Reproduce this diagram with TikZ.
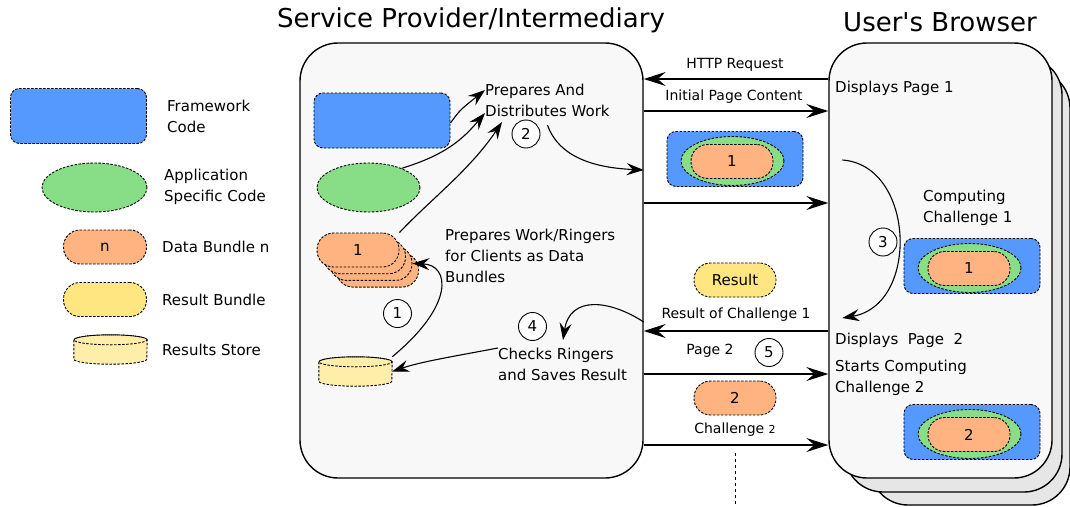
\documentclass[tikz,border=0pt]{standalone}
\usepackage{fontspec}
\setmainfont{DejaVu Sans}
\newfontfamily\titlefont{DejaVu Sans}[Ligatures=TeXOff]
\usetikzlibrary{shapes.geometric,arrows.meta}
\definecolor{fwblue}{HTML}{5599FF}
\definecolor{appgreen}{HTML}{87DE87}
\definecolor{dataorange}{HTML}{FFB380}
\definecolor{resyellow}{HTML}{FFE680}
\definecolor{storeyellow}{HTML}{FFEEAA}
\definecolor{panelgray}{HTML}{F8F8F8}
\definecolor{backgray}{HTML}{E6E6E6}
\tikzset{
  panel/.style={draw, line width=1.4pt, fill=panelgray, rounded corners=38pt},
  dashedge/.style={draw, dash pattern=on 2.5pt off 1.5pt, line width=0.9pt},
  fwbox/.style={dashedge, fill=fwblue, rounded corners=9pt, minimum width=136pt, minimum height=55pt},
  appoval/.style={dashedge, ellipse, fill=appgreen, minimum width=103pt, minimum height=49pt, inner sep=0pt},
  datapill/.style={dashedge, fill=dataorange, rounded corners=16.5pt, minimum width=82pt, minimum height=34pt, font=\fontsize{15}{18}\selectfont},
  respill/.style={datapill, fill=resyellow},
  storecyl/.style={minimum width=73pt, minimum height=29pt, inner sep=0pt},
  stepnum/.style={draw, circle, line width=0.9pt, fill=white, minimum size=28pt, inner sep=0pt, font=\fontsize{15}{18}\selectfont},
  txt/.style={align=left, anchor=west, inner sep=0pt, font=\fontsize{15}{21}\selectfont},
  lbl/.style={inner sep=0pt, font=\fontsize{14}{17}\selectfont},
  flow/.style={line width=1.6pt, -{Stealth[length=22pt,width=14pt,inset=8pt]}},
  bent/.style={line width=1.1pt, -{Stealth[length=17pt,width=12pt,inset=6pt]}},
}
\begin{document}
\begin{tikzpicture}[x=1pt, y=-1pt]
\useasboundingbox (0,0) rectangle (1070,506);
%%% Titles
\node[font=\fontsize{26}{30}\selectfont] (servertitle) at (471,20) {Service Provider/Intermediary};
\node[font=\titlefont\fontsize{26}{30}\selectfont] (browsertitle) at (940,22) {User's Browser};
%%% The legend on the left
\node[fwbox] (fwlegend) at (78.5,116) {};
\node[txt] (fwtext) at (167,116.5) {Framework\\Code};
\node[appoval, minimum width=105pt] (applegend) at (94.5,187.5) {};
\node[txt] (apptext) at (164,186.5) {Application\\Specific Code};
\node[datapill, minimum width=83pt] (datalegend) at (105,247) {n};
\node[txt] (datatext) at (162,247) {Data Bundle n};
\node[respill, minimum width=83pt] (reslegend) at (105,299.5) {};
\node[txt] (restext) at (162,300) {Result Bundle};
\node[storecyl] (storelegend) at (110.5,349.5) {};
\node[txt] (storetext) at (162,350) {Results Store};
%%% The browser windows, the two at the back first
\node[panel, fill=backgray, minimum width=200pt, minimum height=435pt] (browserback2) at (970,287.5) {};
\node[panel, fill=backgray, minimum width=217pt, minimum height=435pt] (browserback1) at (953.5,274.5) {};
\node[panel, minimum width=223pt, minimum height=435pt] (browser) at (940.5,260.5) {};
%%% The service provider
\node[panel, minimum width=343pt, minimum height=435pt] (server) at (471.5,260.5) {};
\node[fwbox] (fwcode) at (382,120.5) {};
\node[appoval] (appcode) at (368.5,187.5) {};
\foreach \k in {3,2,1}
  \node[datapill] (stack\k) at ({358+6.5*\k},{250+6.7*\k}) {};
\node[datapill] (stack0) at (358,250) {1};
\node[storecyl] (store) at (355.5,371.5) {};
%%% Both result stores drawn as cylinders
\foreach \c in {storelegend,store} {
  \path[dashedge, fill=storeyellow] ([yshift=-5pt]\c.north west) -- ([yshift=5pt]\c.south west)
    arc[start angle=180, end angle=360, x radius=36.5pt, y radius=5pt]
    -- ([yshift=-5pt]\c.north east)
    arc[start angle=0, end angle=180, x radius=36.5pt, y radius=5pt] -- cycle;
  \path[dashedge] ([yshift=-5pt]\c.north) ellipse [x radius=36.5pt, y radius=5pt];
}
%%% Texts of the steps
\node[txt] (prepwork) at (485,100.5) {Prepares And\\Distributes Work};
\node[txt] (prepringers) at (445,256) {Prepares Work/Ringers\\for Clients as Data\\Bundles};
\node[txt] (checks) at (498,364.5) {Checks Ringers\\and Saves Result};
\node[txt] (page1) at (835,88) {Displays Page 1};
\node[txt] (computing1) at (923,207.5) {Computing\\Challenge 1};
\node[txt] (page2) at (835,340) {Displays\ \ Page\ \ 2};
\node[txt] (computing2) at (835,377.5) {Starts Computing\\Challenge 2};
%%% Bundles: framework code round application code round data
\foreach \nm/\px/\py/\num in {transit/735/159/1, run1/972/266/1, run2/972/432/2} {
  \node[fwbox] (\nm) at (\px,\py) {};
  \node[appoval] (\nm app) at (\px-2.5,\py+2) {};
  \node[datapill] (\nm data) at (\px-3,\py+2.5) {\num};
}
\node[respill] (result) at (735,280) {Result};
\node[datapill] (challenge) at (735,398) {2};
%%% Numbered steps
\node[stepnum] (s1) at (397.5,313.5) {1};
\node[stepnum] (s2) at (526,134) {2};
\node[stepnum] (s3) at (883,242) {3};
\node[stepnum] (s4) at (532.5,326.5) {4};
\node[stepnum] (s5) at (769,352.5) {5};
%%% Messages between the service provider and the browser
\draw[flow] (browser.west |- 0,79) -- (server.east |- 0,79);
\node[lbl] (httplbl) at (735,65) {HTTP Request};
\draw[flow] (server.east |- 0,111) -- (browser.west |- 0,111);
\node[lbl] (initlbl) at (734,97) {Initial Page Content};
\draw[flow] (server.east |- 0,203) -- (browser.west |- 0,203);
\draw[flow] (browser.west |- 0,331) -- (server.east |- 0,331);
\node[lbl] (resultlbl) at (736,315) {Result of Challenge 1};
\draw[flow] (server.east |- 0,374) -- (browser.west |- 0,374);
\node[lbl] (page2lbl) at (710,351) {Page 2};
\draw[flow] (server.east |- 0,445) -- (browser.west |- 0,445);
\node[lbl] (challengelbl) at (735,430) {Challenge {\fontsize{11}{13}\selectfont 2}};
\draw[dashed, line width=0.8pt] (challenge.south |- 0,453) -- (challenge.south |- 0,506);
%%% Work flow inside the service provider
\draw[bent] (fwcode.east |- 0,123) .. controls (460,110) .. (prepwork.west |- 0,90);
\draw[bent] (appcode.30) .. controls (445,155) and (462,140) .. (prepwork.west |- 0,113);
\draw[bent] (stack0.north east) .. controls (430,200) and (470,170) .. (502,122);
\draw[bent] (prepwork.south |- 0,125) .. controls (560,160) and (600,168) .. (server.east |- 0,170);
\draw[bent] (store.north east) .. controls (455,305) and (450,265) .. (stack2.east);
\draw[bent] (checks.north west) .. controls (450,357) and (420,362) .. (store.east);
\draw[bent] (server.east |- 0,322) .. controls (610,300) and (570,295) .. (563,340);
%%% The browser computes the first challenge
\draw[bent] ([xshift=14pt]browser.west |- 0,160) .. controls (915,165) and (920,305) .. ([xshift=14pt]browser.west |- 0,318);
\end{tikzpicture}
\end{document}
